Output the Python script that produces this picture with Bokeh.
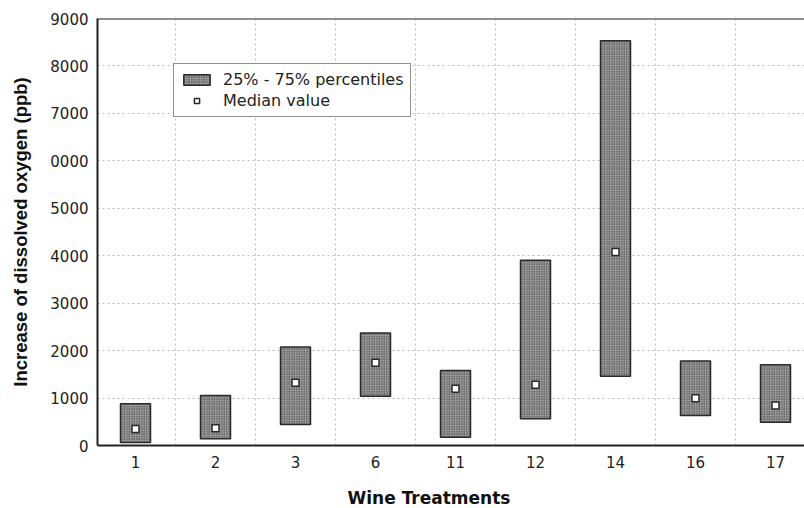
from bokeh.plotting import figure
from bokeh.models import FixedTicker, Range1d, Legend, LegendItem, Title, ColumnDataSource, Span
from bokeh.embed import file_html
from bokeh.resources import INLINE

treatments = ["1", "2", "3", "6", "11", "12", "14", "16", "17"]
q25 = [63, 140, 443, 1040, 175, 563, 1462, 633, 492]
q75 = [880, 1055, 2074, 2370, 1582, 3903, 8530, 1779, 1702]
median = [350, 365, 1323, 1745, 1196, 1280, 4080, 998, 844]
y_ticks = [0, 1000, 2000, 3000, 4000, 5000, 6000, 7000, 8000, 9000]
y_tick_labels = ["0", "1000", "2000", "3000", "4000", "5000", "0000", "7000", "8000", "9000"]

xs = list(range(len(treatments)))
src = ColumnDataSource(dict(x=xs, q25=q25, q75=q75, med=median))

p = figure(width=804, height=508, output_backend="svg", toolbar_location=None,
           x_range=Range1d(-0.475, 8.3625), y_range=Range1d(0, 9000),
           min_border_left=97, min_border_right=0, min_border_top=18, min_border_bottom=63)
p.outline_line_color = None
p.background_fill_color = "white"

# grids
p.xgrid.ticker = FixedTicker(ticks=[i + 0.5 for i in range(len(treatments) - 1)])
p.ygrid.ticker = FixedTicker(ticks=y_ticks[1:-1])
for g in (p.xgrid, p.ygrid):
    g.grid_line_color = "#bcbcbc"
    g.grid_line_dash = "2 3"
    g.grid_line_width = 1

# x axis
p.xaxis.ticker = FixedTicker(ticks=xs)
p.xaxis.major_label_overrides = {i: t for i, t in enumerate(treatments)}
p.xaxis.major_tick_out = 0
p.xaxis.major_tick_in = 0
p.xaxis.minor_tick_line_color = None
p.xaxis.axis_line_color = "#222222"
p.xaxis.axis_line_width = 2
p.xaxis.major_label_text_font = "DejaVu Sans"
p.xaxis.major_label_text_font_size = "15px"
p.xaxis.major_label_text_color = "#222222"
p.xaxis.major_label_standoff = 10
# spacer below the tick labels so the title sits near the bottom edge
p.xaxis.axis_label = "\u00a0"
p.xaxis.axis_label_text_font_size = "10px"
p.xaxis.axis_label_standoff = 0

# y axis
p.yaxis.ticker = FixedTicker(ticks=y_ticks)
p.yaxis.major_label_overrides = {v: l for v, l in zip(y_ticks, y_tick_labels)}
p.yaxis.major_tick_out = 0
p.yaxis.major_tick_in = 0
p.yaxis.minor_tick_line_color = None
p.yaxis.axis_line_color = "#222222"
p.yaxis.axis_line_width = 2
p.yaxis.major_label_text_font = "DejaVu Sans"
p.yaxis.major_label_text_font_size = "15px"
p.yaxis.major_label_text_color = "#222222"
p.yaxis.major_label_standoff = 9
p.yaxis.axis_label = "Increase of dissolved oxygen (ppb)"
p.yaxis.axis_label_text_font = "Liberation Sans"
p.yaxis.axis_label_text_font_style = "bold"
p.yaxis.axis_label_text_font_size = "18.5px"
p.yaxis.axis_label_text_color = "#111111"
p.yaxis.axis_label_standoff = 16

# top frame line
p.add_layout(Span(location=9000, dimension="width", line_color="#222222", line_width=2))

bars = p.vbar(x="x", width=0.375, bottom="q25", top="q75", source=src,
              fill_color="#999999", hatch_pattern="dot", hatch_color="#262626",
              hatch_scale=2.5, hatch_weight=1,
              line_color="#2a2a2a", line_width=1.5)
meds = p.scatter(x="x", y="med", source=src, marker="square", size=7,
                 fill_color="white", line_color="#2a2a2a", line_width=1.5)

legend = Legend(items=[LegendItem(label="25% - 75% percentiles", renderers=[bars]),
                       LegendItem(label="Median value", renderers=[meds])],
                location=(76, 328), margin=0, padding=6, spacing=2,
                glyph_width=33, glyph_height=13, label_height=13, label_standoff=10,
                label_text_font="DejaVu Sans", label_text_font_size="16px",
                label_text_color="#222222",
                border_line_color="#222222", border_line_width=1.5,
                background_fill_color="white", background_fill_alpha=1)
p.add_layout(legend)

xt = Title(text="Wine Treatments", align="left", offset=250, standoff=2,
           text_font="DejaVu Sans", text_font_style="bold", text_font_size="17px",
           text_color="#111111")
p.add_layout(xt, "below")

open("out.html", "w").write(file_html(p, INLINE))
